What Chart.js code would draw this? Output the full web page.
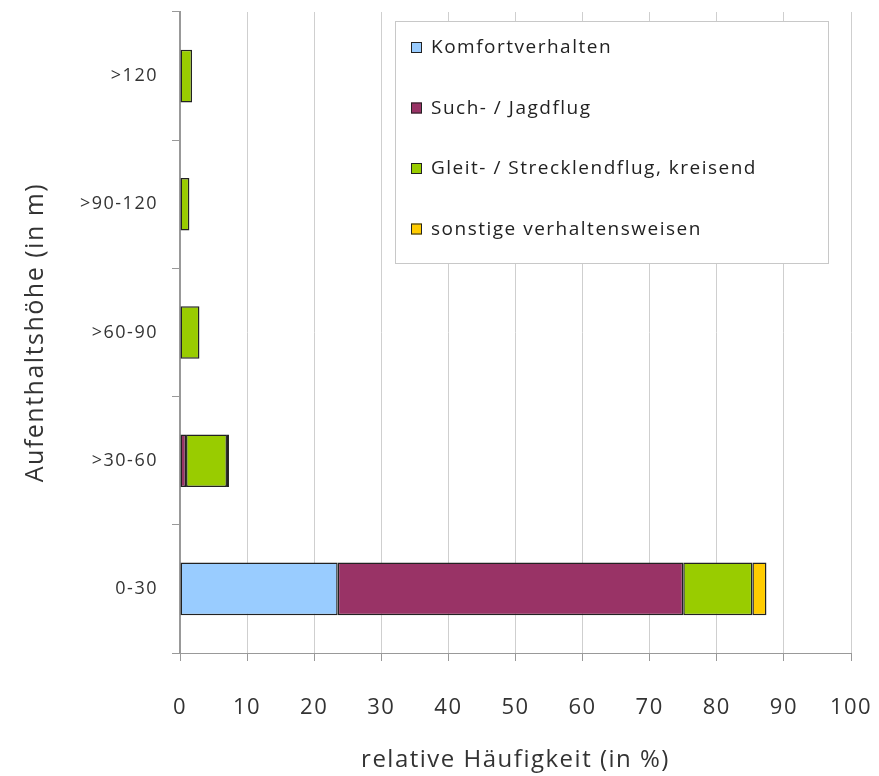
<!DOCTYPE html>
<html>
<head>
<meta charset="utf-8">
<script src="https://cdn.jsdelivr.net/npm/chart.js@4.4.0/dist/chart.umd.min.js"></script>
<style>
  html, body { margin: 0; padding: 0; background: #fff; }
  #wrap { width: 879px; height: 776px; }
</style>
</head>
<body>
<div id="wrap"><canvas id="graph"></canvas></div>
<script>
// Höhenklassen (von unten nach oben)
const heights = ['0-30', '>30-60', '>60-90', '>90-120', '>120'];

const seriesNames = ['Komfortverhalten', 'Such- / Jagdflug', 'Gleit- / Strecklendflug, kreisend', 'sonstige verhaltensweisen'];
const komfort = [23.5, 0, 0, 0, 0];
const suchJagd = [51.5, 0.9, 0, 0, 0];
const gleit = [10.3, 6.1, 2.9, 1.4, 1.8];
const sonstige = [2.1, 0.3, 0, 0, 0];

const xTicks = [0, 10, 20, 30, 40, 50, 60, 70, 80, 90, 100];

const colors = ['#99CCFF', '#993366', '#99CC00', '#FFCC00'];
const fontName = "'Open Sans', 'DejaVu Sans', sans-serif";

const letterSpacing = {
    id: 'letterSpacing',
    beforeInit(chart) { chart.ctx.letterSpacing = '1.5px'; },
    beforeUpdate(chart) { chart.ctx.letterSpacing = '1.5px'; },
    beforeDraw(chart) { chart.ctx.letterSpacing = '1.5px'; }
};

// legend box inside the plot area
const boxLegend = {
    id: 'boxLegend',
    afterDraw(chart) {
        const ctx = chart.ctx;
        const area = chart.chartArea;
        const left = area.left + 215, top = area.top + 9;
        const w = 433, h = 242;
        ctx.save();
        ctx.letterSpacing = '1.5px';
        ctx.fillStyle = '#fff';
        ctx.fillRect(left, top, w, h);
        ctx.strokeStyle = '#c8c8c8';
        ctx.lineWidth = 1;
        ctx.strokeRect(left + 0.5, top + 0.5, w, h);
        ctx.font = '19px ' + fontName;
        ctx.textBaseline = 'middle';
        chart.data.datasets.forEach((ds, i) => {
            const y = top + 27 + i * 60.5;
            ctx.fillStyle = ds.backgroundColor;
            ctx.fillRect(left + 16, y - 6, 11, 11);
            ctx.strokeStyle = '#222';
            ctx.strokeRect(left + 16.5, y - 5.5, 10, 10);
            ctx.fillStyle = '#222';
            ctx.fillText(ds.label, left + 36, y);
        });
        ctx.restore();
    }
};

const series = [komfort, suchJagd, gleit, sonstige];

new Chart(document.getElementById('graph'), {
    type: 'bar',
    data: {
        labels: heights,
        datasets: series.map((vals, i) => ({
            label: seriesNames[i],
            data: vals,
            backgroundColor: colors[i],
            borderColor: '#222',
            borderWidth: 1.5,
            borderSkipped: false,
            barPercentage: 0.41,
            categoryPercentage: 1.0
        }))
    },
    plugins: [letterSpacing, boxLegend],
    options: {
        indexAxis: 'y',
        responsive: true,
        maintainAspectRatio: false,
        animation: false,
        layout: { padding: { top: 12, right: 28, left: 0, bottom: 0 } },
        plugins: {
            legend: { display: false },
            tooltip: { enabled: false }
        },
        scales: {
            x: {
                stacked: true,
                min: 0,
                max: 100,
                afterBuildTicks(scale) {
                    scale.ticks = xTicks.map(v => ({ value: v }));
                },
                afterFit(scale) {
                    scale.height = 123;
                    scale.paddingLeft = 0;
                    scale.paddingRight = 0;
                },
                grid: {
                    color: '#cfcfcf',
                    tickColor: '#999',
                    tickLength: 8,
                    lineWidth: 1
                },
                border: { color: '#999', width: 1 },
                ticks: {
                    color: '#333',
                    padding: 34,
                    font: { family: fontName, size: 22 }
                },
                title: {
                    display: true,
                    text: 'relative Häufigkeit (in %)',
                    color: '#333',
                    padding: { top: 0, bottom: 1 },
                    font: { family: fontName, size: 24 }
                }
            },
            y: {
                stacked: true,
                reverse: true,
                afterFit(scale) {
                    scale.width = 180;
                    scale.paddingTop = 0;
                    scale.paddingBottom = 0;
                },
                grid: {
                    drawOnChartArea: false,
                    tickColor: '#999',
                    tickLength: 8
                },
                border: { color: '#999', width: 2 },
                ticks: {
                    color: '#333',
                    padding: 14,
                    font: { family: fontName, size: 18 }
                },
                title: {
                    display: true,
                    text: 'Aufenthaltshöhe (in m)',
                    color: '#333',
                    padding: { top: 21, bottom: 0 },
                    font: { family: fontName, size: 25 }
                }
            }
        }
    }
});
</script>
</body>
</html>
